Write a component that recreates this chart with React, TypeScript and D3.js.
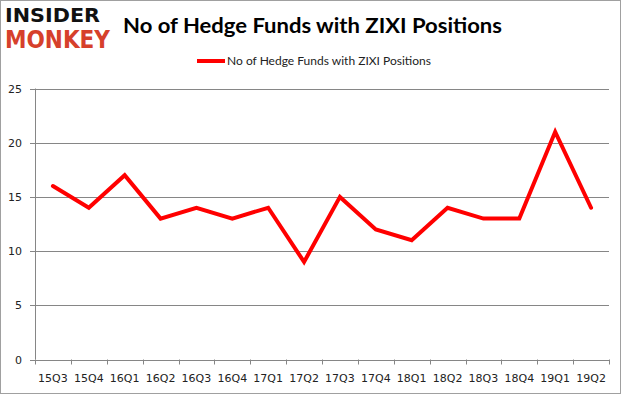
import React from "react";
import * as d3 from "d3";

const categories = ["15Q3","15Q4","16Q1","16Q2","16Q3","16Q4","17Q1","17Q2","17Q3","17Q4","18Q1","18Q2","18Q3","18Q4","19Q1","19Q2"];
const values = [16,14,17,13,14,13,14,9,15,12,11,14,13,13,21,14];
const yTicks = [0,5,10,15,20,25];
const seriesName = "No of Hedge Funds with ZIXI Positions";
const title = "No of Hedge Funds with ZIXI Positions";

export default function App() {
  const W = 625, H = 395;
  const left = 35, right = 609, top = 88.5, bottom = 359.5;
  const x = d3.scaleBand<string>().domain(categories).range([left, right]);
  const y = d3.scaleLinear().domain([0, 25]).range([bottom, top]);
  const line = d3.line<number>()
    .x((_, i) => (x(categories[i]) as number) + x.bandwidth() / 2)
    .y(d => y(d));
  const grid = "#868686";
  return (
    <svg width={W} height={H} style={{ position: "absolute", left: 0, top: 0, background: "#fff" }}>
      <rect x={0.5} y={0.5} width={620} height={393} fill="#fff" stroke="#a0a0a0" />
      <text x={5} y={22} fontFamily="DejaVu Sans" fontWeight={900} fontSize={19} textLength={95} lengthAdjust="spacingAndGlyphs" fill="#111">INSIDER</text>
      <text x={5} y={48} fontFamily="DejaVu Sans" fontWeight={900} fontSize={24} textLength={105} lengthAdjust="spacingAndGlyphs" fill="#d6402b">MONKEY</text>
      <text x={123} y={33} fontFamily="Lato" fontWeight={700} fontSize={21.5} textLength={379} lengthAdjust="spacingAndGlyphs" fill="#000">{title}</text>
      <line x1={197} x2={225} y1={61} y2={61} stroke="#ff0000" strokeWidth={4} />
      <text x={227} y={65} fontFamily="Lato" fontSize={11.5} textLength={204} lengthAdjust="spacingAndGlyphs" fill="#222">{seriesName}</text>
      {yTicks.map(t => (
        <g key={t}>
          <line x1={left - 5} x2={right} y1={Math.round(y(t)) + 0.5} y2={Math.round(y(t)) + 0.5} stroke={grid} strokeWidth={1} />
          <text x={22} y={y(t) + 4} textAnchor="end" fontFamily="DejaVu Sans" fontSize={11} fill="#222">{t}</text>
        </g>
      ))}
      <line x1={left + 0.5} x2={left + 0.5} y1={top} y2={bottom} stroke={grid} />
      {categories.concat([""]).map((c, i) => {
        const xx = Math.round(left + i * x.step()) + 0.5;
        return <line key={"t" + i} x1={xx} x2={xx} y1={bottom} y2={bottom + 5} stroke={grid} />;
      })}
      {categories.map(c => (
        <text key={c} x={(x(c) as number) + x.bandwidth() / 2} y={382} textAnchor="middle" fontFamily="DejaVu Sans" fontSize={11} fill="#222">{c}</text>
      ))}
      <path d={line(values) || ""} fill="none" stroke="#ff0000" strokeWidth={4} strokeLinejoin="miter" strokeLinecap="round" />
    </svg>
  );
}
